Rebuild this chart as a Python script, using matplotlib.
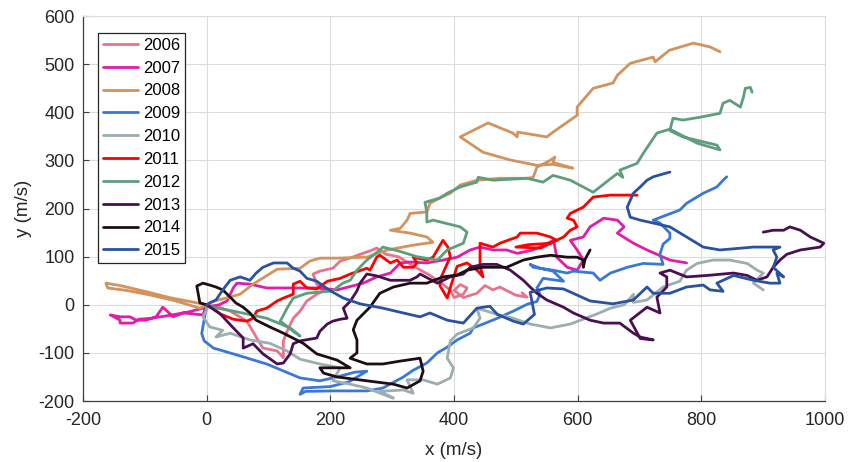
import matplotlib
matplotlib.use("Agg")
import matplotlib.pyplot as plt

plt.rcParams['font.family'] = ['Liberation Sans', 'DejaVu Sans']
plt.rcParams['axes.unicode_minus'] = False

years = ["2006", "2007", "2008", "2009", "2010", "2011", "2012", "2013", "2014", "2015"]
colors = ["#E8748C", "#E21CAA", "#D4925C", "#3A78D6", "#9CAEAE",
          "#FF0000", "#5E9E7C", "#4A0E52", "#1E0E14", "#2A52A0"]

x2006 = [0, 20, 38, 65, 81, 91, 114, 124, 124, 130, 140, 151, 162, 178, 189, 178, 172, 183, 204, 216, 232, 248,
         264, 275, 290, 310, 335, 360, 380, 394, 400, 415, 421, 410, 400, 415, 437, 450, 463, 474, 486, 500, 518, 510]
y2006 = [0, -5, -13, -34, -69, -90, -96, -110, -75, -55, -28, -13, 8, 22, 29, 43, 64, 70, 76, 91, 97, 105,
         112, 118, 105, 100, 80, 62, 45, 30, 15, 22, 35, 42, 30, 15, 24, 40, 31, 37, 29, 20, 16, 25]

x2007 = [0, -6, -38, -54, -71, -82, -98, -114, -124, -140, -156, -140, -140, -119, -110, -90, -60, -30, 0, 20, 33,
         43, 49, 70, 97, 140, 178, 211, 253, 275, 297, 313, 329, 356, 382, 405, 426, 442, 463, 485, 502, 528,
         561, 566, 583, 599, 609, 599, 588, 609, 620, 642, 664, 675, 664, 690, 712, 749, 776]
y2007 = [0, -21, -17, -25, -5, -25, -32, -32, -25, -25, -21, -32, -38, -38, -30, -28, -22, -15, -5, 0, 8,
         35, 45, 43, 35, 35, 35, 31, 45, 58, 66, 87, 89, 87, 93, 99, 114, 120, 114, 114, 107, 114,
         134, 99, 78, 72, 93, 114, 134, 141, 162, 180, 176, 162, 149, 128, 114, 93, 87]

x2008 = [0, -20, -60, -100, -140, -163, -160, -130, -90, -50, -11, 10, 54, 75, 114, 151, 167, 183, 211, 259, 292,
         334, 366, 356, 329, 297, 313, 324, 329, 356, 361, 377, 394, 410, 437, 474, 518, 528, 534, 555, 563, 560,
         592, 560, 534, 491, 447, 410, 455, 495, 502, 503, 550, 558, 599, 599, 625, 657, 664, 685, 722, 725,
         748, 787, 814, 830]
y2008 = [0, 5, 15, 28, 40, 45, 35, 30, 20, 8, -7, 7, 22, 43, 74, 76, 91, 97, 97, 99, 114,
         124, 130, 141, 149, 155, 159, 176, 190, 193, 211, 222, 232, 249, 259, 263, 263, 265, 286, 300, 307, 296,
         284, 292, 290, 301, 317, 349, 378, 357, 349, 359, 349, 357, 394, 411, 450, 461, 477, 502, 515, 505,
         529, 544, 536, 526]

x2009 = [0, -4, -8, -4, 11, 43, 97, 151, 183, 204, 240, 259, 230, 200, 156, 151, 160, 204, 259, 285, 318, 334,
         356, 373, 389, 405, 426, 431, 447, 470, 496, 518, 534, 539, 534, 544, 577, 560, 539, 523, 528, 560,
         583, 593, 625, 636, 653, 680, 706, 738, 733, 738, 749, 749, 733, 722, 765, 776, 803, 825, 835, 841]
y2009 = [0, -30, -60, -75, -90, -102, -123, -152, -158, -152, -140, -138, -160, -170, -173, -186, -180, -179,
         -179, -173, -150, -136, -121, -100, -88, -73, -59, -48, -40, -28, -13, 1, 7, 22, 35, 55, 49, 70, 76,
         84, 78, 72, 66, 70, 66, 51, 66, 78, 86, 84, 105, 126, 138, 149, 170, 176, 197, 211, 232, 245, 259, 266]

x2010 = [0, 0, -6, 5, 26, 15, 38, 70, 102, 130, 151, 183, 216, 204, 232, 259, 285, 302, 280, 318, 334, 324,
         350, 373, 394, 399, 389, 394, 405, 431, 442, 437, 470, 496, 523, 556, 588, 631, 653, 675, 685, 690,
         690, 712, 738, 765, 776, 793, 819, 846, 874, 890, 900, 884, 900]
y2010 = [0, -11, -25, -46, -53, -67, -59, -73, -80, -96, -113, -123, -131, -158, -165, -173, -186, -194, -180,
         -177, -184, -156, -156, -165, -152, -131, -111, -75, -61, -48, -28, -7, -20, -28, -40, -48, -40, -19,
         -7, 0, 14, 22, 5, 10, 37, 49, 72, 86, 93, 93, 86, 72, 66, 45, 31]

x2011 = [0, 10, 22, 43, 65, 75, 81, 97, 114, 124, 140, 140, 151, 162, 178, 195, 216, 232, 259, 264, 275, 280,
         297, 308, 318, 334, 340, 334, 356, 366, 382, 390, 394, 380, 377, 389, 395, 405, 421, 437, 447, 442,
         442, 463, 474, 502, 507, 534, 556, 566, 556, 520, 500, 540, 577, 588, 599, 593, 583, 588, 609, 625,
         653, 696]
y2011 = [0, -7, -19, -30, -34, -28, -13, -7, 8, 14, 22, 43, 49, 35, 33, 49, 55, 64, 76, 72, 99, 103,
         87, 93, 78, 78, 87, 99, 93, 99, 134, 120, 100, 60, 40, 14, 40, 80, 87, 72, 58, 80,
         128, 120, 128, 141, 149, 149, 141, 134, 128, 125, 120, 118, 141, 155, 162, 176, 180, 190, 203, 224,
         228, 228]

x2012 = [0, 0, 43, 97, 135, 151, 140, 119, 130, 140, 162, 204, 220, 232, 243, 259, 280, 285, 310, 340, 373,
         389, 415, 421, 410, 366, 356, 356, 353, 377, 389, 410, 437, 439, 463, 518, 544, 560, 588, 625, 664,
         673, 668, 696, 706, 728, 749, 793, 830, 825, 770, 749, 754, 770, 798, 830, 835, 846, 863, 868, 871,
         879, 882]
y2012 = [0, -3, -13, -28, -48, -65, -55, -34, -7, 14, 24, 29, 45, 51, 72, 93, 114, 120, 112, 100, 93,
         114, 128, 151, 162, 176, 172, 193, 213, 222, 232, 245, 255, 265, 259, 263, 255, 269, 259, 234, 273,
         265, 280, 294, 315, 357, 365, 336, 322, 332, 349, 362, 388, 384, 390, 398, 419, 425, 411, 432, 450,
         452, 442]

x2013 = [0, 22, 43, 59, 59, 75, 91, 114, 124, 135, 140, 151, 178, 183, 195, 204, 216, 227, 221, 232, 243, 248,
         259, 275, 297, 329, 340, 345, 373, 394, 415, 426, 447, 469, 491, 512, 523, 534, 550, 577, 593, 620,
         642, 668, 690, 701, 722, 701, 685, 712, 733, 728, 744, 744, 733, 749, 776, 809, 852, 874, 890, 906,
         916, 927, 938, 960, 992, 998, 976, 960, 943, 933, 916, 900]
y2013 = [0, -19, -48, -69, -90, -81, -102, -123, -121, -102, -81, -75, -69, -55, -40, -34, -30, -28, -7, 7, 29,
         45, 64, 60, 51, 51, 58, 64, 45, 58, 64, 78, 84, 84, 72, 51, 37, 24, 10, -5, -17, -32,
         -38, -38, -59, -67, -73, -70, -32, -5, -17, 16, 37, 58, 66, 72, 58, 61, 66, 61, 51, 58,
         78, 93, 105, 114, 120, 128, 141, 155, 162, 155, 155, 151]

x2014 = [0, -11, -16, -6, 5, 15, 26, 38, 47, 59, 70, 80, 102, 124, 156, 178, 211, 232, 183, 189, 211, 259,
         302, 324, 345, 350, 345, 313, 285, 259, 232, 243, 243, 237, 243, 264, 280, 302, 329, 356, 382, 405,
         421, 447, 485, 512, 534, 556, 583, 599, 609, 609, 612, 620]
y2014 = [0, 4, 39, 45, 41, 37, 31, 16, 4, -5, -17, -32, -46, -59, -80, -102, -115, -131, -131, -142, -150,
         -158, -165, -173, -158, -138, -111, -117, -123, -123, -111, -100, -73, -52, -32, -5, 24, 37, 45, 45,
         58, 62, 72, 78, 78, 93, 99, 103, 99, 99, 93, 78, 95, 114]

x2015 = [0, 5, 15, 26, 38, 54, 70, 80, 91, 108, 130, 140, 151, 162, 178, 200, 221, 248, 285, 318, 345, 361,
         389, 415, 437, 458, 470, 496, 512, 530, 523, 550, 577, 620, 657, 690, 712, 722, 749, 776, 803, 814,
         835, 825, 852, 884, 911, 927, 922, 933, 916, 922, 916, 927, 884, 830, 803, 776, 749, 722, 701, 685,
         680, 690, 701, 712, 722, 738, 749]
y2015 = [0, 4, 10, 31, 51, 58, 51, 66, 78, 87, 87, 76, 70, 55, 49, 29, 14, 2, -7, -17, -25, -17,
         -32, -38, -7, -3, -20, -34, -40, -20, 26, 35, 33, 8, 2, 10, 37, 24, 24, 37, 41, 31,
         28, 45, 61, 51, 45, 45, 66, 58, 78, 99, 114, 120, 120, 114, 120, 141, 162, 170, 176, 182,
         203, 232, 245, 259, 266, 272, 276]

xs = [x2006, x2007, x2008, x2009, x2010, x2011, x2012, x2013, x2014, x2015]
ys = [y2006, y2007, y2008, y2009, y2010, y2011, y2012, y2013, y2014, y2015]

fig = plt.figure(figsize=(8.53, 4.62), dpi=100)
ax = fig.add_axes([0.0973, 0.132, 0.8700, 0.833])

for xv, yv, c, lab in zip(xs, ys, colors, years):
    ax.plot(xv, yv, color=c, lw=2.0, label=lab, solid_joinstyle='round', solid_capstyle='round')

ax.set_xlim(-200, 1000)
ax.set_ylim(-200, 600)
ax.set_xticks(range(-200, 1001, 200))
ax.set_yticks(range(-200, 601, 100))
ax.grid(True, color="#DCDCDC", lw=0.8)
ax.set_axisbelow(True)

for s in ("top", "right"):
    ax.spines[s].set_color("#DCDCDC")
    ax.spines[s].set_linewidth(0.8)
for s in ("left", "bottom"):
    ax.spines[s].set_color("#404040")
    ax.spines[s].set_linewidth(0.9)

ax.tick_params(direction="in", length=4, width=0.8, colors="#404040", labelcolor="#262626",
               labelsize=13, top=False, right=False)
ax.tick_params(axis="x", pad=8)
ax.tick_params(axis="y", pad=6)

ax.set_xlabel("x (m/s)", fontsize=13.5, color="#262626", labelpad=9)
ax.set_ylabel("y (m/s)", fontsize=13.5, color="#262626", labelpad=5)

leg = ax.legend(loc="upper left", bbox_to_anchor=(0.02, 0.957), fontsize=12, frameon=True,
                fancybox=False, edgecolor="#262626", framealpha=1.0, handlelength=2.1,
                handletextpad=0.3, labelspacing=0.47, borderpad=0.3, borderaxespad=0.0)
leg.get_frame().set_linewidth(0.9)

fig.savefig("out.png", dpi=100)
